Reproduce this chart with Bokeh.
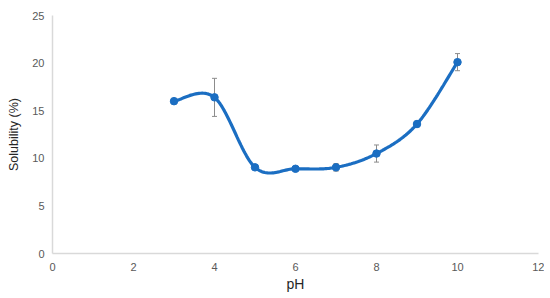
import numpy as np
from bokeh.plotting import figure
from bokeh.models import ColumnDataSource, Whisker, TeeHead, Range1d, FixedTicker
from bokeh.embed import file_html
from bokeh.resources import INLINE

ph = [3, 4, 5, 6, 7, 8, 9, 10]
solubility = [16.0, 16.4, 9.05, 8.9, 9.05, 10.5, 13.6, 20.1]
err = [0.3, 2.0, 0.25, 0.2, 0.4, 0.9, 0.3, 0.9]
x_ticks = [0, 2, 4, 6, 8, 10, 12]
y_ticks = [0, 5, 10, 15, 20, 25]

# Smoothed line (Excel-style Catmull-Rom bezier) through data points
def smooth(xs, ys, n=30):
    pts = np.column_stack([xs, ys]).astype(float)
    out = []
    for i in range(len(pts) - 1):
        p0 = pts[i - 1] if i > 0 else pts[i]
        p1 = pts[i]
        p2 = pts[i + 1]
        p3 = pts[i + 2] if i + 2 < len(pts) else pts[i + 1]
        c1 = p1 + (p2 - p0) / 6.0
        c2 = p2 - (p3 - p1) / 6.0
        t = np.linspace(0, 1, n)[:, None]
        seg = ((1 - t) ** 3) * p1 + 3 * ((1 - t) ** 2) * t * c1 + 3 * (1 - t) * t ** 2 * c2 + t ** 3 * p2
        out.append(seg if i == 0 else seg[1:])
    s = np.vstack(out)
    return s[:, 0], s[:, 1]

sx, sy = smooth(ph, solubility)

p = figure(frame_width=486, frame_height=238, output_backend="svg", toolbar_location=None,
           x_range=Range1d(0, 12), y_range=Range1d(0, 25),
           min_border_left=52, min_border_right=6, min_border_top=15, min_border_bottom=34)
p.outline_line_color = None
p.grid.visible = False

src = ColumnDataSource(dict(x=ph, y=solubility,
                            lo=[v - e for v, e in zip(solubility, err)],
                            hi=[v + e for v, e in zip(solubility, err)]))

w = Whisker(base="x", upper="hi", lower="lo", source=src,
            line_color="#8c8c8c", line_width=1,
            upper_head=TeeHead(size=5, line_color="#8c8c8c", line_width=1),
            lower_head=TeeHead(size=5, line_color="#8c8c8c", line_width=1))
p.add_layout(w)

p.line(sx, sy, line_color="#1b6ec2", line_width=3.2)
p.scatter("x", "y", source=src, size=7.5, color="#1b6ec2")

for ax in (p.xaxis[0], p.yaxis[0]):
    ax.axis_line_color = "#d9d9d9"
    ax.axis_line_width = 1.5
    ax.major_tick_line_color = None
    ax.minor_tick_line_color = None
    ax.major_label_text_color = "#595959"
    ax.major_label_text_font = "Liberation Sans"
    ax.major_label_text_font_size = "11px"
    ax.axis_label_text_font = "Liberation Sans"
    ax.axis_label_text_font_style = "normal"
    ax.axis_label_text_color = "#262626"
    ax.major_tick_out = 0
    ax.major_tick_in = 0

p.xaxis[0].ticker = FixedTicker(ticks=x_ticks)
p.yaxis[0].ticker = FixedTicker(ticks=y_ticks)
p.xaxis[0].axis_label = "pH"
p.yaxis[0].axis_label = "Solubility (%)"
p.xaxis[0].axis_label_text_font_size = "14px"
p.yaxis[0].axis_label_text_font_size = "12.5px"
p.xaxis[0].major_label_standoff = 9
p.yaxis[0].major_label_standoff = 8
p.xaxis[0].axis_label_standoff = 2
p.yaxis[0].axis_label_standoff = 8

open("out.html", "w").write(file_html(p, INLINE))
